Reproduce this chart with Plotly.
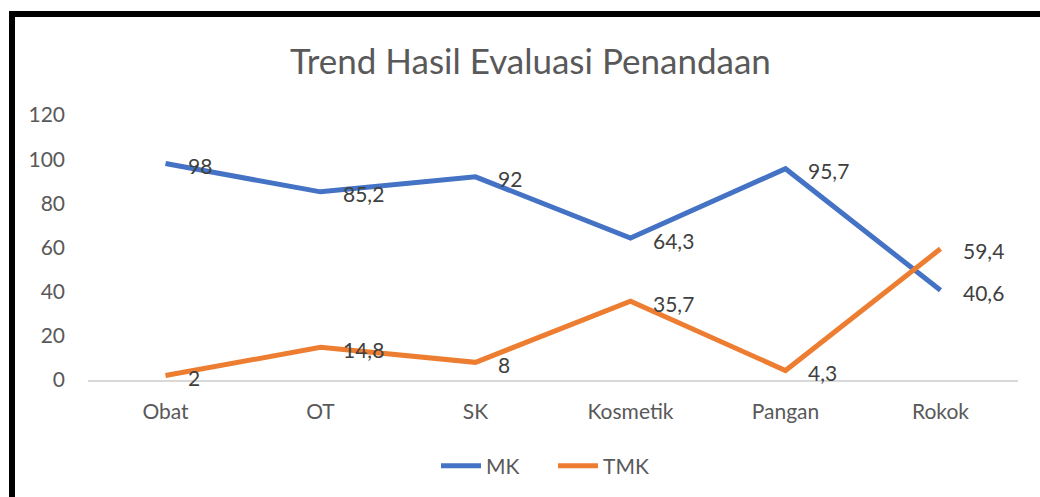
import plotly.graph_objects as go

categories = ["Obat", "OT", "SK", "Kosmetik", "Pangan", "Rokok"]
mk_values = [98, 85.2, 92, 64.3, 95.7, 40.6]
tmk_values = [2, 14.8, 8, 35.7, 4.3, 59.4]
y_ticks = [0, 20, 40, 60, 80, 100, 120]

BLUE = "#4472C4"
ORANGE = "#ED7D31"
TEXT = "#595959"
LABEL = "#404040"
FONT = "Lato"


def fmt(v):
    # Decimal comma, as used in Indonesian notation
    s = f"{v:g}"
    return s.replace(".", ",")


fig = go.Figure()
fig.add_trace(go.Scatter(x=categories, y=mk_values, name="MK", mode="lines",
                         line=dict(color=BLUE, width=5)))
fig.add_trace(go.Scatter(x=categories, y=tmk_values, name="TMK", mode="lines",
                         line=dict(color=ORANGE, width=5)))

annotations = []
for series in (mk_values, tmk_values):
    for c, v in zip(categories, series):
        annotations.append(dict(x=c, y=v, xref="x", yref="y", text=fmt(v),
                                showarrow=False, xanchor="left", yanchor="middle",
                                xshift=20, yshift=-2,
                                font=dict(family=FONT, size=21, color=LABEL)))

fig.update_layout(
    width=1040, height=497,
    margin=dict(l=88, r=22, t=115, b=116),
    paper_bgcolor="white", plot_bgcolor="white",
    title=dict(text="Trend Hasil Evaluasi Penandaan", x=0.51, xanchor="center",
               y=1 - 62 / 497, yanchor="middle",
               font=dict(family=FONT, size=35, color=TEXT)),
    xaxis=dict(type="category", range=[-0.5, 5.5], showgrid=False,
               showline=True, linecolor="#D9D9D9", linewidth=1.5,
               tickfont=dict(family=FONT, size=21, color=TEXT),
               ticks="", ticklabelstandoff=12, fixedrange=True),
    yaxis=dict(range=[0, 120], tickvals=y_ticks, showgrid=False, zeroline=False,
               showline=False, tickfont=dict(family=FONT, size=21, color=TEXT),
               ticks="", ticklabelstandoff=22, fixedrange=True),
    legend=dict(orientation="h", x=0.5, xanchor="center", y=-0.32, yanchor="middle",
                font=dict(family=FONT, size=21, color=TEXT), itemwidth=40,
                entrywidth=62, entrywidthmode="pixels",
                traceorder="normal"),
    annotations=annotations,
    shapes=[dict(type="rect", xref="paper", yref="paper",
                 x0=(12 - 88) / 930, x1=1.2,
                 y0=-0.6, y1=(381 - 13.5) / 266,
                 line=dict(color="black", width=6), fillcolor="rgba(0,0,0,0)",
                 layer="above")],
)

fig.write_html("out.html")
